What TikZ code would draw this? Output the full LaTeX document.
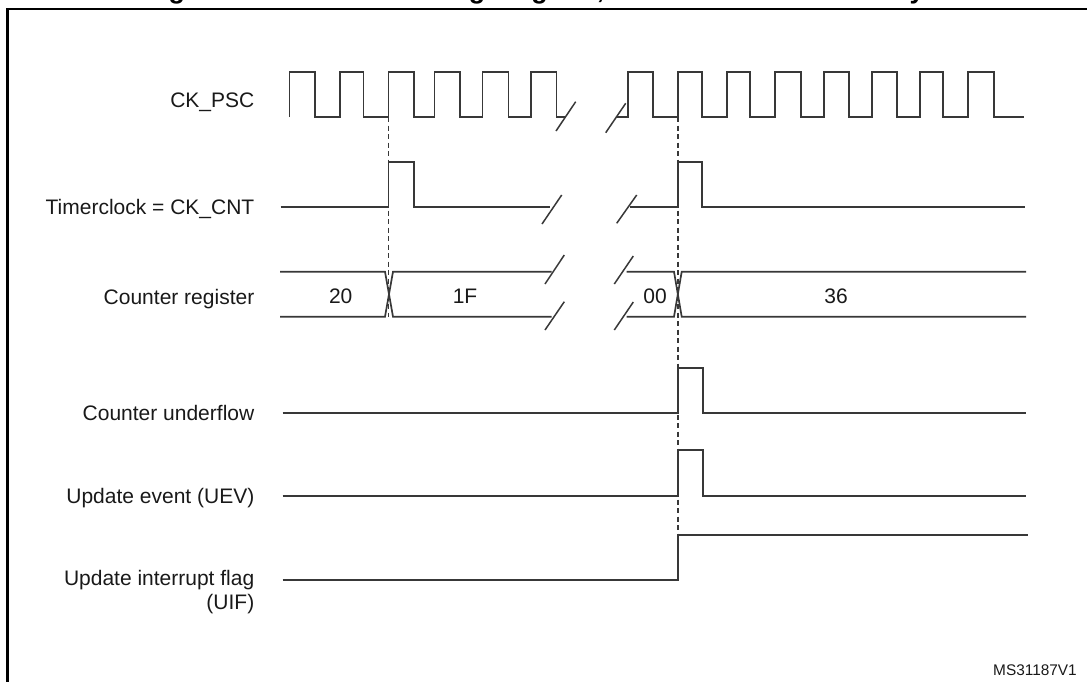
\documentclass[tikz,border=0pt]{standalone}
\usepackage{fontspec}
\setmainfont{Liberation Sans}
\begin{document}
\begin{tikzpicture}[x=1pt,y=-1pt,
  sig/.style={line width=1.7pt, draw=black!78, line join=miter},
  brk/.style={line width=1.5pt, draw=black!78},
  guide/.style={line width=1.6pt, draw=black!78, dash pattern=on 5pt off 3.5pt},
  lbl/.style={anchor=base east, inner sep=0pt, font=\fontsize{21}{24.4}\selectfont, text=black!90},
  val/.style={anchor=base, inner sep=0pt, font=\fontsize{21}{24}\selectfont, text=black!90},
  framest/.style={line width=2.6pt, draw=black}]
\useasboundingbox (0,0) rectangle (1087,681);
\begin{scope}
  \clip (0,0) rectangle (1087,681);
  \node[anchor=base west, inner sep=0pt, font=\fontsize{26.8}{30}\selectfont\bfseries] (title) at (144.5,-1.5) {Figure 118. Counter timing diagram, internal clock divided by N};
  \draw[framest] (7.5,700) -- (7.5,9) -- (1100,9);
\end{scope}

% labels
\node[lbl] (lckpsc) at (254.5,107.5) {CK\_PSC};
\node[lbl] (ltim) at (254.5,214) {Timerclock = CK\_CNT};
\node[lbl] (lcnt) at (254.5,304) {Counter register};
\node[lbl] (lund) at (254.5,420) {Counter underflow};
\node[lbl] (luev) at (254.5,503) {Update event (UEV)};
\node[lbl] (luif) at (254.5,585) {Update interrupt flag};
\node[lbl] (luifb) at (254.5,609.4) {(UIF)};

% guide coordinates
\coordinate (g1t) at (388.5,117);
\coordinate (g1b) at (388.5,317);
\coordinate (g2t) at (677.7,117);
\coordinate (g2b) at (677.7,535.3);
\draw[guide] (g1t) -- (g1b);
\draw[guide] (g2t) -- (g2b);

% CK_PSC
\draw[sig] (289.5,117) |- (315,72.3) |- (340,117) |- (363.5,72.3) |- (388.5,117) |- (414,72.3) |- (434.5,117) |- (460,72.3) |- (482.5,117) |- (508.5,72.3) |- (531,117) |- (556.5,72.3) |- (565,117);
\draw[sig] (617,117) -- (627.7,117) |- (653.3,72.3) |- (677.7,117) |- (701.7,72.3) |- (726.7,117) |- (750,72.3) |- (775,117) |- (800.7,72.3) |- (824,117) |- (849.3,72.3) |- (872,117) |- (897.3,72.3) |- (920,117) |- (943.3,72.3) |- (968.3,117) |- (994,72.3) |- (1024,117);
\draw[brk] (556,131) -- (575.7,101.7);
\draw[brk] (605.7,132.7) -- (625.7,103.3);

% Timerclock
\draw[sig] (280.7,207.3) -- (388.5,207.3) |- (414,162) |- (550,207.3);
\draw[sig] (630,207.3) -- (677.7,207.3) |- (702.3,162) |- (1025,207.3);
\draw[brk] (542,224) -- (561.7,195);
\draw[brk] (616.7,223.3) -- (636.7,195);

% Counter register
\draw[sig] (280,271.7) -- (385,271.7) -- (393,316.7) -- (551.7,316.7);
\draw[sig] (280,316.7) -- (385,316.7) -- (393,271.7) -- (551.7,271.7);
\draw[brk] (545,284) -- (564.3,255);
\draw[brk] (545,330) -- (564.3,301.7);
\draw[brk] (614.3,284) -- (633.3,256);
\draw[brk] (614.3,330) -- (633.3,302);
\draw[sig] (626.7,271.7) -- (674,271.7) -- (681.7,316.7) -- (1026,316.7);
\draw[sig] (626.7,316.7) -- (674,316.7) -- (681.7,271.7) -- (1026,271.7);
\node[val] (v20) at (340.7,303) {20};
\node[val] (v1f) at (465,303) {1F};
\node[val] (v00) at (655,303) {00};
\node[val] (v36) at (836,303) {36};

% Counter underflow
\draw[sig] (282.7,412.7) -- (677.7,412.7) |- (703,367.7) |- (1026,412.7);
% UEV
\draw[sig] (282.7,495.7) -- (677.7,495.7) |- (703,450) |- (1026,495.7);
% UIF
\draw[sig] (282.7,580) -- (677.7,580) |- (1027.7,535.3);

\node[anchor=base east, inner sep=0pt, font=\fontsize{15.4}{18}\selectfont, text=black!90] (ref) at (1077,675.5) {MS31187V1};
\end{tikzpicture}
\end{document}
